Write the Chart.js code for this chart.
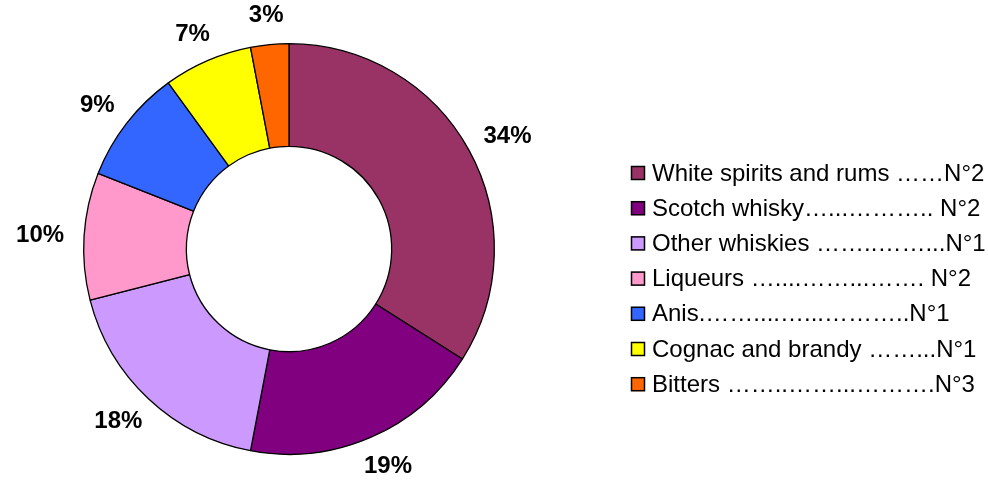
<!DOCTYPE html>
<html>
<head>
<meta charset="utf-8">
<script src="https://cdn.jsdelivr.net/npm/chart.js@4/dist/chart.umd.min.js"></script>
<style>
html,body{margin:0;padding:0;background:#fff;}
#wrap{width:988px;height:486px;}
</style>
</head>
<body>
<div id="wrap"><canvas id="c" width="988" height="486"></canvas></div>
<script>
// data
const categories = ['White spirits and rums ……N°2','Scotch whisky…...……….. N°2','Other whiskies ……..……...N°1','Liqueurs …....……...……. N°2','Anis.……....…...………..N°1','Cognac and brandy ……...N°1','Bitters ……..……...……….N°3'];
const shares = [34, 19, 18, 10, 9, 7, 3];
const colors = ['#993366','#800080','#CC99FF','#FF99CC','#3366FF','#FFFF00','#FF6600'];

const FONT = '"Liberation Sans", Arial, sans-serif';

// percent labels outside each slice
const pctLabels = {
  id:'pctLabels',
  afterDatasetsDraw(chart){
    const ctx = chart.ctx; const meta = chart.getDatasetMeta(0);
    const total = shares.reduce((s,n)=>s+n,0);
    ctx.save(); ctx.font = 'bold 24px '+FONT; ctx.fillStyle='#000';
    ctx.textAlign='center'; ctx.textBaseline='middle';
    meta.data.forEach((arc,i)=>{
      const a = (arc.startAngle+arc.endAngle)/2;
      const txt = Math.round(shares[i]/total*100)+'%';
      const w = ctx.measureText(txt).width, h = 20;
      const r = arc.outerRadius + 20;
      const x = arc.x + Math.cos(a)*r + Math.cos(a)*w/2;
      const y = arc.y + Math.sin(a)*r + Math.sin(a)*h/2;
      ctx.fillText(txt, x, y+1);
    });
    ctx.restore();
  }
};

// legend drawn at the right like the original
const sideLegend = {
  id:'sideLegend',
  afterDraw(chart){
    const ctx = chart.ctx; ctx.save();
    ctx.font = '24px '+FONT; ctx.textBaseline='middle'; ctx.textAlign='left';
    categories.forEach((lab,i)=>{
      const y = 173 + i*35.2;
      ctx.fillStyle = colors[i]; ctx.fillRect(631, y-7, 14, 14);
      ctx.strokeStyle='#000'; ctx.lineWidth=1.5; ctx.strokeRect(631.5, y-6.5, 13, 13);
      ctx.fillStyle='#000'; ctx.fillText(lab, 652, y+1);
    });
    ctx.restore();
  }
};

new Chart(document.getElementById('c'), {
  type:'doughnut',
  data:{ labels: categories, datasets:[{ data: shares, backgroundColor: colors, borderColor:'#000', borderWidth:1.3 }] },
  options:{
    responsive:false, animation:false, cutout:'50%',
    layout:{ padding:{ left:83, right:493, top:43, bottom:31 } },
    plugins:{ legend:{display:false}, tooltip:{enabled:false} }
  },
  plugins:[pctLabels, sideLegend]
});
</script>
</body>
</html>
